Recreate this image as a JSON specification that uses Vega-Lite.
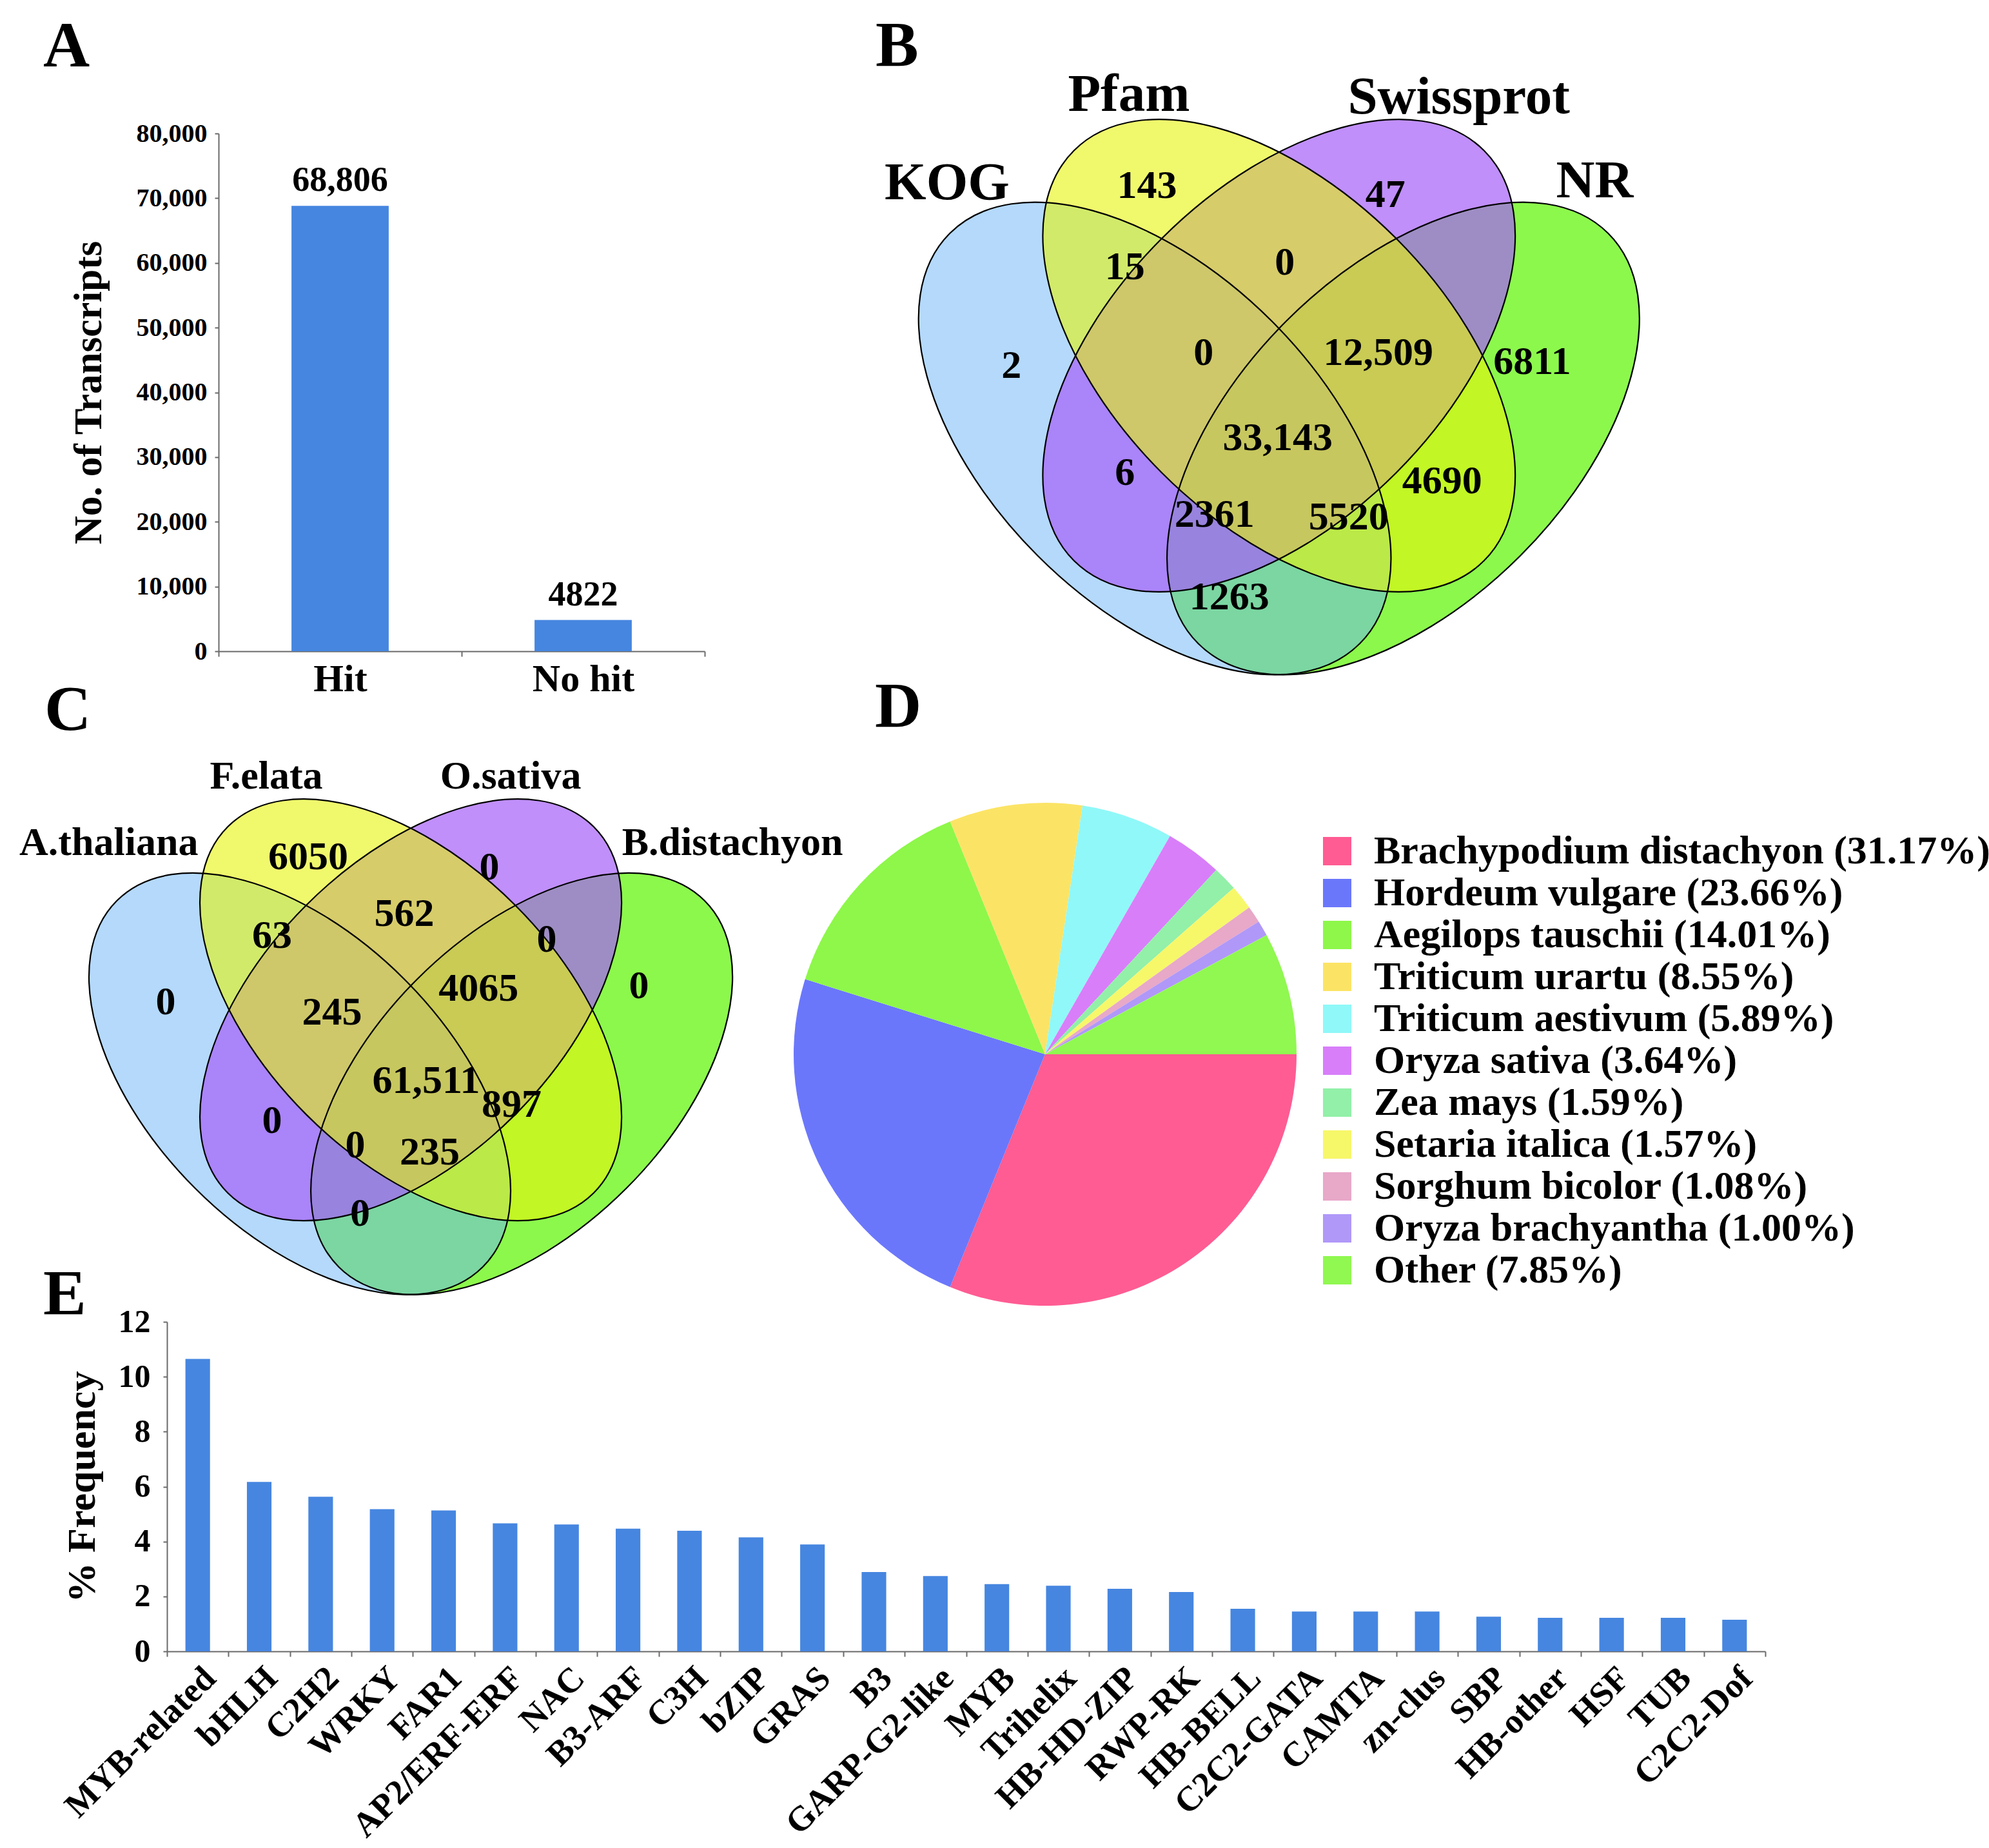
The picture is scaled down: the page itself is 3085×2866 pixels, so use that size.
{
  "$schema": "https://vega.github.io/schema/vega-lite/v6.json",
  "background": "white",
  "padding": {"left": 30, "top": 22, "right": 5, "bottom": 5},
  "config": {
    "view": {"stroke": null},
    "font": "Liberation Serif",
    "axis": {"labelFont": "Liberation Serif", "titleFont": "Liberation Serif", "labelFontWeight": "bold", "titleFontWeight": "bold", "labelColor": "#000000", "titleColor": "#000000", "grid": false, "domainColor": "#6b6b6b", "tickColor": "#6b6b6b", "domainWidth": 2, "tickWidth": 2, "labelLimit": 1000},
    "title": {"font": "Liberation Serif", "fontWeight": "bold", "fontSize": 100, "color": "#000000", "anchor": "start", "frame": "group"},
    "legend": {"labelFont": "Liberation Serif", "labelFontWeight": "bold", "labelColor": "#000000"},
    "text": {"font": "Liberation Serif", "fontWeight": "bold", "color": "#000000"}
  },
  "resolve": {"scale": {"color": "independent"}},
  "datasets": {
    "transcripts": [
      {"category": "Hit", "count": 68806, "label": "68,806"},
      {"category": "No hit", "count": 4822, "label": "4822"}
    ],
    "ellipses": [
      {"role": "outerLeft", "ux": 0.35, "uy": 0.47},
      {"role": "outerRight", "ux": 0.65, "uy": 0.47},
      {"role": "innerRight", "ux": 0.5, "uy": 0.57},
      {"role": "innerLeft", "ux": 0.5, "uy": 0.57}
    ],
    "vennB": [
      {"ux": 0.0128, "uy": 0.9198, "text": "B", "kind": "panel"},
      {"ux": 0.3187, "uy": 0.8848, "text": "Pfam", "kind": "set"},
      {"ux": 0.7171, "uy": 0.8817, "text": "Swissprot", "kind": "set"},
      {"ux": 0.0992, "uy": 0.7782, "text": "KOG", "kind": "set"},
      {"ux": 0.8813, "uy": 0.7805, "text": "NR", "kind": "set"},
      {"ux": 0.3405, "uy": 0.7751, "text": "143", "kind": "count"},
      {"ux": 0.6284, "uy": 0.7642, "text": "47", "kind": "count"},
      {"ux": 0.3140, "uy": 0.6770, "text": "15", "kind": "count"},
      {"ux": 0.5070, "uy": 0.6825, "text": "0", "kind": "count"},
      {"ux": 0.1770, "uy": 0.5580, "text": "2", "kind": "count"},
      {"ux": 0.4089, "uy": 0.5735, "text": "0", "kind": "count"},
      {"ux": 0.6198, "uy": 0.5735, "text": "12,509", "kind": "count"},
      {"ux": 0.8058, "uy": 0.5626, "text": "6811", "kind": "count"},
      {"ux": 0.4984, "uy": 0.4708, "text": "33,143", "kind": "count"},
      {"ux": 0.3140, "uy": 0.4288, "text": "6", "kind": "count"},
      {"ux": 0.6969, "uy": 0.4187, "text": "4690", "kind": "count"},
      {"ux": 0.4222, "uy": 0.3782, "text": "2361", "kind": "count"},
      {"ux": 0.5840, "uy": 0.3751, "text": "5520", "kind": "count"},
      {"ux": 0.4401, "uy": 0.2786, "text": "1263", "kind": "count"}
    ],
    "vennC": [
      {"ux": 0.0048, "uy": 0.9486, "text": "C", "kind": "panel"},
      {"ux": 0.3047, "uy": 0.8858, "text": "F.elata", "kind": "set"},
      {"ux": 0.6351, "uy": 0.8858, "text": "O.sativa", "kind": "set"},
      {"ux": -0.0292, "uy": 0.7960, "text": "A.thaliana", "kind": "setLeft"},
      {"ux": 0.9351, "uy": 0.7960, "text": "B.distachyon", "kind": "set"},
      {"ux": 0.3614, "uy": 0.7768, "text": "6050", "kind": "count"},
      {"ux": 0.6064, "uy": 0.7629, "text": "0", "kind": "count"},
      {"ux": 0.3126, "uy": 0.6705, "text": "63", "kind": "count"},
      {"ux": 0.4913, "uy": 0.7001, "text": "562", "kind": "count"},
      {"ux": 0.6840, "uy": 0.6652, "text": "0", "kind": "count"},
      {"ux": 0.1687, "uy": 0.5806, "text": "0", "kind": "count"},
      {"ux": 0.3936, "uy": 0.5667, "text": "245", "kind": "count"},
      {"ux": 0.5916, "uy": 0.5990, "text": "4065", "kind": "count"},
      {"ux": 0.8085, "uy": 0.6024, "text": "0", "kind": "count"},
      {"ux": 0.5209, "uy": 0.4743, "text": "61,511", "kind": "count"},
      {"ux": 0.3126, "uy": 0.4202, "text": "0", "kind": "count"},
      {"ux": 0.6364, "uy": 0.4420, "text": "897", "kind": "count"},
      {"ux": 0.4250, "uy": 0.3871, "text": "0", "kind": "count"},
      {"ux": 0.5257, "uy": 0.3775, "text": "235", "kind": "count"},
      {"ux": 0.4316, "uy": 0.2947, "text": "0", "kind": "count"}
    ],
    "species": [
      {"label": "Brachypodium distachyon (31.17%)", "pct": 31.17, "order": 1},
      {"label": "Hordeum vulgare (23.66%)", "pct": 23.66, "order": 2},
      {"label": "Aegilops tauschii (14.01%)", "pct": 14.01, "order": 3},
      {"label": "Triticum urartu (8.55%)", "pct": 8.55, "order": 4},
      {"label": "Triticum aestivum (5.89%)", "pct": 5.89, "order": 5},
      {"label": "Oryza sativa (3.64%)", "pct": 3.64, "order": 6},
      {"label": "Zea mays (1.59%)", "pct": 1.59, "order": 7},
      {"label": "Setaria italica (1.57%)", "pct": 1.57, "order": 8},
      {"label": "Sorghum bicolor (1.08%)", "pct": 1.08, "order": 9},
      {"label": "Oryza brachyantha (1.00%)", "pct": 1.00, "order": 10},
      {"label": "Other (7.85%)", "pct": 7.85, "order": 11}
    ],
    "tf": [
      {"family": "MYB-related", "freq": 10.65},
      {"family": "bHLH", "freq": 6.17},
      {"family": "C2H2", "freq": 5.63},
      {"family": "WRKY", "freq": 5.18},
      {"family": "FAR1", "freq": 5.13},
      {"family": "AP2/ERF-ERF", "freq": 4.66},
      {"family": "NAC", "freq": 4.62},
      {"family": "B3-ARF", "freq": 4.47},
      {"family": "C3H", "freq": 4.39},
      {"family": "bZIP", "freq": 4.15},
      {"family": "GRAS", "freq": 3.89},
      {"family": "B3", "freq": 2.89},
      {"family": "GARP-G2-like", "freq": 2.74},
      {"family": "MYB", "freq": 2.45},
      {"family": "Trihelix", "freq": 2.39},
      {"family": "HB-HD-ZIP", "freq": 2.28},
      {"family": "RWP-RK", "freq": 2.16},
      {"family": "HB-BELL", "freq": 1.55},
      {"family": "C2C2-GATA", "freq": 1.45},
      {"family": "CAMTA", "freq": 1.45},
      {"family": "zn-clus", "freq": 1.45},
      {"family": "SBP", "freq": 1.26},
      {"family": "HB-other", "freq": 1.22},
      {"family": "HSF", "freq": 1.22},
      {"family": "TUB", "freq": 1.22},
      {"family": "C2C2-Dof", "freq": 1.15}
    ]
  },
  "spacing": -67,
  "vconcat": [
    {
      "spacing": 247.5,
      "resolve": {"scale": {"color": "independent"}},
      "hconcat": [
        {
          "width": 834,
          "height": 803,
          "title": {"text": "A", "dx": -192, "offset": 63},
          "data": {"name": "transcripts"},
          "encoding": {
            "x": {"field": "category", "type": "nominal", "sort": null, "scale": {"paddingInner": 0, "paddingOuter": 0, "range": [80, 834]},
                  "axis": {"title": null, "labelAngle": 0, "labelFontSize": 60, "labelPadding": 6, "tickBand": "extent", "tickSize": 8}},
            "y": {"field": "count", "type": "quantitative", "scale": {"domain": [0, 80000], "nice": false},
                  "axis": {"title": "No. of Transcripts", "offset": -80, "values": [0, 10000, 20000, 30000, 40000, 50000, 60000, 70000, 80000], "format": ",.0f", "labelFontSize": 40, "titleFontSize": 61, "titlePadding": 42, "labelPadding": 12, "tickSize": 6}}
          },
          "layer": [
            {"mark": {"type": "bar", "width": {"band": 0.4}, "color": "#4686e0"}},
            {"mark": {"type": "text", "baseline": "bottom", "dy": -12, "fontSize": 54}, "encoding": {"text": {"field": "label"}}}
          ]
        },
        {
          "width": 1246,
          "height": 907,
          "encoding": {
            "x": {"field": "ux", "type": "quantitative", "scale": {"domain": [0, 0.97], "nice": false, "zero": false}, "axis": null},
            "y": {"field": "uy", "type": "quantitative", "scale": {"domain": [0.1323, 0.8381], "nice": false, "zero": false}, "axis": null}
          },
          "layer": [
            {"data": {"name": "ellipses"}, "transform": [{"filter": "datum.role === 'outerRight'"}],
             "mark": {"type": "point", "shape": "M1,0C1,0.3156,0.5523,0.5714,0,0.5714C-0.5523,0.5714,-1,0.3156,-1,0C-1,-0.3156,-0.5523,-0.5714,0,-0.5714C0.5523,-0.5714,1,-0.3156,1,0Z", "size": 809100, "angle": 315, "filled": true, "opacity": 0.7, "strokeWidth": 0},
             "encoding": {"color": {"field": "role", "type": "nominal", "scale": {"domain": ["outerLeft", "innerLeft", "innerRight", "outerRight"], "range": ["#69b3f7", "#e6f50a", "#a55ff8", "#5bf500"]}, "legend": null}}},
            {"data": {"name": "ellipses"}, "transform": [{"filter": "datum.role === 'outerLeft'"}],
             "mark": {"type": "point", "shape": "M1,0C1,0.3156,0.5523,0.5714,0,0.5714C-0.5523,0.5714,-1,0.3156,-1,0C-1,-0.3156,-0.5523,-0.5714,0,-0.5714C0.5523,-0.5714,1,-0.3156,1,0Z", "size": 809100, "angle": 45, "filled": true, "opacity": 0.5, "strokeWidth": 0},
             "encoding": {"color": {"field": "role", "type": "nominal", "legend": null}}},
            {"data": {"name": "ellipses"}, "transform": [{"filter": "datum.role === 'innerRight'"}],
             "mark": {"type": "point", "shape": "M1,0C1,0.3156,0.5523,0.5714,0,0.5714C-0.5523,0.5714,-1,0.3156,-1,0C-1,-0.3156,-0.5523,-0.5714,0,-0.5714C0.5523,-0.5714,1,-0.3156,1,0Z", "size": 809100, "angle": 315, "filled": true, "opacity": 0.7, "strokeWidth": 0},
             "encoding": {"color": {"field": "role", "type": "nominal", "legend": null}}},
            {"data": {"name": "ellipses"}, "transform": [{"filter": "datum.role === 'innerLeft'"}],
             "mark": {"type": "point", "shape": "M1,0C1,0.3156,0.5523,0.5714,0,0.5714C-0.5523,0.5714,-1,0.3156,-1,0C-1,-0.3156,-0.5523,-0.5714,0,-0.5714C0.5523,-0.5714,1,-0.3156,1,0Z", "size": 809100, "angle": 45, "filled": true, "opacity": 0.6, "strokeWidth": 0},
             "encoding": {"color": {"field": "role", "type": "nominal", "legend": null}}},
            {"data": {"name": "ellipses"}, "transform": [{"filter": "datum.role === 'outerLeft' || datum.role === 'innerLeft'"}],
             "mark": {"type": "point", "shape": "M1,0C1,0.3156,0.5523,0.5714,0,0.5714C-0.5523,0.5714,-1,0.3156,-1,0C-1,-0.3156,-0.5523,-0.5714,0,-0.5714C0.5523,-0.5714,1,-0.3156,1,0Z", "size": 809100, "angle": 45, "filled": false, "stroke": "#000000", "strokeWidth": 2.2, "opacity": 1}},
            {"data": {"name": "ellipses"}, "transform": [{"filter": "datum.role === 'outerRight' || datum.role === 'innerRight'"}],
             "mark": {"type": "point", "shape": "M1,0C1,0.3156,0.5523,0.5714,0,0.5714C-0.5523,0.5714,-1,0.3156,-1,0C-1,-0.3156,-0.5523,-0.5714,0,-0.5714C0.5523,-0.5714,1,-0.3156,1,0Z", "size": 809100, "angle": 315, "filled": false, "stroke": "#000000", "strokeWidth": 2.2, "opacity": 1}},
            {"data": {"name": "vennB"}, "transform": [{"filter": "datum.kind === 'count'"}],
             "mark": {"type": "text", "fontSize": 62, "baseline": "middle", "align": "center"}, "encoding": {"text": {"field": "text"}}},
            {"data": {"name": "vennB"}, "transform": [{"filter": "datum.kind === 'set'"}],
             "mark": {"type": "text", "fontSize": 83, "baseline": "middle", "align": "center"}, "encoding": {"text": {"field": "text"}}},
            {"data": {"name": "vennB"}, "transform": [{"filter": "datum.kind === 'panel'"}],
             "mark": {"type": "text", "fontSize": 100, "baseline": "alphabetic", "align": "left"}, "encoding": {"text": {"field": "text"}}}
          ]
        }
      ]
    },
    {
      "spacing": 0,
      "bounds": "flush",
      "resolve": {"scale": {"color": "independent"}},
      "hconcat": [
        {
          "width": 972,
          "height": 770,
          "encoding": {
            "x": {"field": "ux", "type": "quantitative", "scale": {"domain": [0.1704, 1.0178], "nice": false, "zero": false}, "axis": null},
            "y": {"field": "uy", "type": "quantitative", "scale": {"domain": [0.1787, 0.85], "nice": false, "zero": false}, "axis": null}
          },
          "layer": [
            {"data": {"name": "ellipses"}, "transform": [{"filter": "datum.role === 'outerRight'"}],
             "mark": {"type": "point", "shape": "M1,0C1,0.3156,0.5523,0.5714,0,0.5714C-0.5523,0.5714,-1,0.3156,-1,0C-1,-0.3156,-0.5523,-0.5714,0,-0.5714C0.5523,-0.5714,1,-0.3156,1,0Z", "size": 644648, "angle": 315, "filled": true, "opacity": 0.7, "strokeWidth": 0},
             "encoding": {"color": {"field": "role", "type": "nominal", "scale": {"domain": ["outerLeft", "innerLeft", "innerRight", "outerRight"], "range": ["#69b3f7", "#e6f50a", "#a55ff8", "#5bf500"]}, "legend": null}}},
            {"data": {"name": "ellipses"}, "transform": [{"filter": "datum.role === 'outerLeft'"}],
             "mark": {"type": "point", "shape": "M1,0C1,0.3156,0.5523,0.5714,0,0.5714C-0.5523,0.5714,-1,0.3156,-1,0C-1,-0.3156,-0.5523,-0.5714,0,-0.5714C0.5523,-0.5714,1,-0.3156,1,0Z", "size": 644648, "angle": 45, "filled": true, "opacity": 0.5, "strokeWidth": 0},
             "encoding": {"color": {"field": "role", "type": "nominal", "legend": null}}},
            {"data": {"name": "ellipses"}, "transform": [{"filter": "datum.role === 'innerRight'"}],
             "mark": {"type": "point", "shape": "M1,0C1,0.3156,0.5523,0.5714,0,0.5714C-0.5523,0.5714,-1,0.3156,-1,0C-1,-0.3156,-0.5523,-0.5714,0,-0.5714C0.5523,-0.5714,1,-0.3156,1,0Z", "size": 644648, "angle": 315, "filled": true, "opacity": 0.7, "strokeWidth": 0},
             "encoding": {"color": {"field": "role", "type": "nominal", "legend": null}}},
            {"data": {"name": "ellipses"}, "transform": [{"filter": "datum.role === 'innerLeft'"}],
             "mark": {"type": "point", "shape": "M1,0C1,0.3156,0.5523,0.5714,0,0.5714C-0.5523,0.5714,-1,0.3156,-1,0C-1,-0.3156,-0.5523,-0.5714,0,-0.5714C0.5523,-0.5714,1,-0.3156,1,0Z", "size": 644648, "angle": 45, "filled": true, "opacity": 0.6, "strokeWidth": 0},
             "encoding": {"color": {"field": "role", "type": "nominal", "legend": null}}},
            {"data": {"name": "ellipses"}, "transform": [{"filter": "datum.role === 'outerLeft' || datum.role === 'innerLeft'"}],
             "mark": {"type": "point", "shape": "M1,0C1,0.3156,0.5523,0.5714,0,0.5714C-0.5523,0.5714,-1,0.3156,-1,0C-1,-0.3156,-0.5523,-0.5714,0,-0.5714C0.5523,-0.5714,1,-0.3156,1,0Z", "size": 644648, "angle": 45, "filled": false, "stroke": "#000000", "strokeWidth": 2.2, "opacity": 1}},
            {"data": {"name": "ellipses"}, "transform": [{"filter": "datum.role === 'outerRight' || datum.role === 'innerRight'"}],
             "mark": {"type": "point", "shape": "M1,0C1,0.3156,0.5523,0.5714,0,0.5714C-0.5523,0.5714,-1,0.3156,-1,0C-1,-0.3156,-0.5523,-0.5714,0,-0.5714C0.5523,-0.5714,1,-0.3156,1,0Z", "size": 644648, "angle": 315, "filled": false, "stroke": "#000000", "strokeWidth": 2.2, "opacity": 1}},
            {"data": {"name": "vennC"}, "transform": [{"filter": "datum.kind === 'count'"}],
             "mark": {"type": "text", "fontSize": 62, "baseline": "middle", "align": "center"}, "encoding": {"text": {"field": "text"}}},
            {"data": {"name": "vennC"}, "transform": [{"filter": "datum.kind === 'set'"}],
             "mark": {"type": "text", "fontSize": 62, "baseline": "middle", "align": "center"}, "encoding": {"text": {"field": "text"}}},
            {"data": {"name": "vennC"}, "transform": [{"filter": "datum.kind === 'setLeft'"}],
             "mark": {"type": "text", "fontSize": 62, "baseline": "middle", "align": "left"}, "encoding": {"text": {"field": "text"}}},
            {"data": {"name": "vennC"}, "transform": [{"filter": "datum.kind === 'panel'"}],
             "mark": {"type": "text", "fontSize": 100, "baseline": "alphabetic", "align": "left"}, "encoding": {"text": {"field": "text"}}}
          ]
        },
        {
          "width": 780,
          "height": 780,
          "title": {"text": "D", "dx": 126, "offset": 97},
          "data": {"name": "species"},
          "mark": {"type": "arc", "stroke": null},
          "encoding": {
            "theta": {"field": "pct", "type": "quantitative", "stack": true, "scale": {"range": [1.5708, 7.854]}},
            "order": {"field": "order", "type": "quantitative", "sort": "ascending"},
            "color": {"field": "label", "type": "nominal",
                      "scale": {"domain": ["Brachypodium distachyon (31.17%)", "Hordeum vulgare (23.66%)", "Aegilops tauschii (14.01%)", "Triticum urartu (8.55%)", "Triticum aestivum (5.89%)", "Oryza sativa (3.64%)", "Zea mays (1.59%)", "Setaria italica (1.57%)", "Sorghum bicolor (1.08%)", "Oryza brachyantha (1.00%)", "Other (7.85%)"],
                                "range": ["#ff5c93", "#6b77fa", "#8ef74a", "#fbe465", "#90f8f8", "#d87ef9", "#92f0a8", "#f7f76a", "#e8a8c8", "#b098f8", "#90f850"]},
                      "legend": {"orient": "none", "legendX": 812, "legendY": 44, "title": null, "symbolType": "square", "symbolSize": 1936, "symbolStrokeWidth": 0, "labelFontSize": 62, "labelLimit": 3000, "rowPadding": 3, "labelOffset": 26, "padding": 0}}
          }
        }
      ]
    },
    {
      "width": 2479,
      "height": 511,
      "title": {"text": "E", "dx": -192, "offset": -34},
      "data": {"name": "tf"},
      "mark": {"type": "bar", "width": {"band": 0.4}, "color": "#4686e0"},
      "encoding": {
        "x": {"field": "family", "type": "nominal", "sort": null, "scale": {"paddingInner": 0, "paddingOuter": 0},
              "axis": {"title": null, "labelAngle": -45, "labelFontSize": 54, "labelPadding": 6, "tickBand": "extent", "tickSize": 8}},
        "y": {"field": "freq", "type": "quantitative", "scale": {"domain": [0, 12], "nice": false},
              "axis": {"title": "% Frequency", "values": [0, 2, 4, 6, 8, 10, 12], "labelFontSize": 50, "titleFontSize": 62, "titlePadding": 24, "labelPadding": 20, "tickSize": 6}}
      }
    }
  ]
}
